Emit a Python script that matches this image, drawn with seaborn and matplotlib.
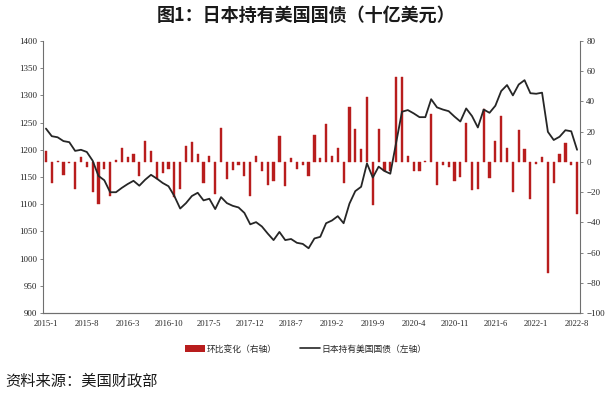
import pandas as pd
import matplotlib.pyplot as plt
import seaborn as sns
from matplotlib.patches import Patch
from matplotlib.lines import Line2D

# Monthly data, 2015-1 .. 2022-8
months = pd.date_range("2015-01-01", periods=92, freq="MS")
month_labels = [f"{d.year}-{d.month}" for d in months]

# Japan's holdings of US Treasuries, billion USD (left axis)
holdings = [
    1239, 1225, 1223, 1216, 1214, 1198, 1200, 1196, 1180, 1152,
    1144, 1122, 1122, 1130, 1137, 1143, 1134, 1145, 1154, 1147,
    1139, 1133, 1115, 1092, 1102, 1115, 1121, 1107, 1110, 1091,
    1113, 1102, 1097, 1094, 1084, 1063, 1067, 1059, 1046, 1034,
    1049, 1034, 1036, 1029, 1027, 1019, 1037, 1040, 1065, 1070,
    1078, 1065, 1101, 1124, 1132, 1175, 1149, 1169, 1161, 1156,
    1213, 1270, 1273, 1267, 1260, 1260, 1293, 1278, 1274, 1271,
    1261, 1252, 1276, 1262, 1241, 1274, 1268, 1281, 1308, 1319,
    1300, 1320, 1328, 1304, 1303, 1305, 1233, 1218, 1224, 1236,
    1234, 1200,
]

# Month-on-month change, billion USD (right axis)
mom_change = [
    7.5, -14, 0.4, -8.8, -1, -17.7, 3.3, -3.5, -20, -27.9,
    -4.4, -22.3, 1.1, 9.3, 3.3, 5.3, -9.5, 13.7, 7.5, -11,
    -7.3, -4.4, -23.5, -18, 10.8, 13, 4.9, -14, 4.2, -21,
    22.6, -11.3, -5.5, -1.8, -9.5, -22.3, 4.2, -5.8, -15.5, -12.4,
    17, -16, 2.7, -5, -1.8, -9.5, 17.7, 2.7, 25.2, 3.8,
    9.3, -14, 36.5, 21.9, 8.2, 43.1, -28.3, 21.9, -6.2, -6.2,
    56.4, 56.4, 3.8, -6.2, -6.2, 0.9, 31.4, -15, -2.2, -3.3,
    -12.4, -10, 25.4, -18.8, -17.7, 34.7, -10.6, 13.7, 30.3, 9.3,
    -20.1, 20.8, 8.2, -24.6, -1.1, 3.3, -73.7, -14, 5.3, 12.6,
    -1.8, -34.3,
]

df = pd.DataFrame({"idx": range(len(months)), "hold": holdings, "chg": mom_change})

BAR_COLOR = "#B81D1D"
LINE_COLOR = "#262626"
AXIS_COLOR = "#6f6f6f"

sns.set_style("white")
plt.rcParams["font.family"] = ["Noto Sans CJK SC", "DejaVu Sans"]

fig = plt.figure(figsize=(6.12, 3.98), dpi=100)
ax = fig.add_axes([0.0703, 0.2136, 0.8774, 0.6834])
ax2 = ax.twinx()

# bars on right axis, line on left axis (line drawn on top)
sns.barplot(data=df, x="idx", y="chg", native_scale=True, width=0.38,
            color=BAR_COLOR, saturation=1, edgecolor=BAR_COLOR,
            linewidth=0.3, ax=ax2)
sns.lineplot(data=df, x="idx", y="hold", color=LINE_COLOR, lw=1.3, ax=ax)
ax.set_zorder(ax2.get_zorder() + 1)
ax.patch.set_visible(False)

ax.set_xlim(-0.5, 91.5)
ax.set_ylim(900, 1400)
ax2.set_ylim(-100, 80)
ax.set_yticks(range(900, 1401, 50))
ax2.set_yticks(range(-100, 81, 20))

ax.set_xticks(range(0, 92, 7), [month_labels[i] for i in range(0, 92, 7)])
ax.set_xticks([i - 0.5 for i in range(93)], minor=True)
ax.tick_params(axis="x", which="major", length=0, pad=5, labelsize=6.2)
ax.tick_params(axis="x", which="minor", length=2.5, direction="inout",
               color=AXIS_COLOR, width=0.6)
ax.tick_params(axis="y", length=2.5, direction="out", color=AXIS_COLOR,
               width=0.6, labelsize=6.5, pad=2)
ax2.tick_params(axis="y", length=2.5, direction="out", color=AXIS_COLOR,
                width=0.6, labelsize=6.5, pad=2)
for lab in ax.get_xticklabels() + ax.get_yticklabels() + ax2.get_yticklabels():
    lab.set_fontfamily("Liberation Serif")

for a in (ax, ax2):
    a.set_xlabel("")
    a.set_ylabel("")
    a.spines["top"].set_visible(False)
    for s in ("left", "right", "bottom"):
        a.spines[s].set_color(AXIS_COLOR)
        a.spines[s].set_linewidth(0.8)
ax.spines["right"].set_visible(False)
ax2.spines["left"].set_visible(False)

fig.text(0.5, 0.962, "图1：日本持有美国国债（十亿美元）", ha="center", va="center",
         fontsize=13, fontweight="bold", color="#1a1a1a")

handles = [Patch(facecolor=BAR_COLOR, edgecolor="none"),
           Line2D([0], [0], color=LINE_COLOR, lw=1.2)]
fig.legend(handles, ["环比变化（右轴）", "日本持有美国国债（左轴）"],
           loc="center", bbox_to_anchor=(0.5, 0.123), ncol=2, frameon=False,
           fontsize=6.3, handlelength=2.3, handletextpad=0.2, columnspacing=2.6)

fig.text(0.008, 0.043, "资料来源：美国财政部", ha="left", va="center",
         fontsize=11, color="#1a1a1a")

fig.savefig("out.png", dpi=100)
